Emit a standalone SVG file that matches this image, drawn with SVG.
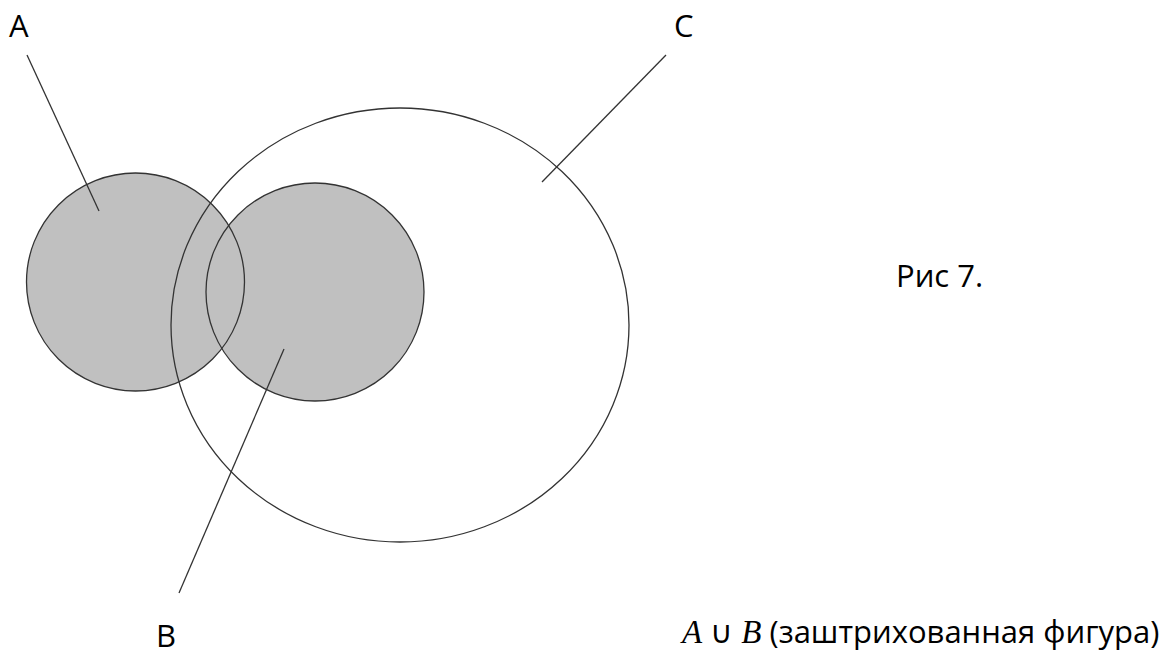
<svg xmlns="http://www.w3.org/2000/svg" width="1161" height="655" viewBox="0 0 1161 655">
<style>
.fillset{fill:#c0c0c0;stroke:none}
.outline{fill:none;stroke:#333;stroke-width:1.3}
.lead{stroke:#333;stroke-width:1.3;fill:none}
.lbl{font-family:"Open Sans","Liberation Sans",sans-serif;font-size:31px;fill:#000}
.math{font-family:"Liberation Serif","DejaVu Serif",serif;font-style:italic;font-size:33px}
</style>
<defs>
<circle id="circA" cx="135.5" cy="282" r="109"/>
<circle id="circB" cx="315" cy="292" r="109"/>
</defs>
<rect width="1161" height="655" fill="#fff"/>
<g id="setA"><use href="#circA" class="fillset"/></g>
<g id="setB"><use href="#circB" class="fillset"/></g>
<g id="setOutlines"><use href="#circA" class="outline"/><use href="#circB" class="outline"/></g>
<g id="setC"><ellipse class="outline" cx="400" cy="325" rx="229" ry="217"/></g>
<g id="connectors">
<line class="lead" x1="27" y1="55" x2="99" y2="211"/>
<line class="lead" x1="666" y1="55" x2="542" y2="182"/>
<line class="lead" x1="284" y1="349" x2="179" y2="593"/>
</g>
<g id="labelA"><text class="lbl" x="9" y="37">A</text></g>
<g id="labelC"><text class="lbl" x="674" y="37">C</text></g>
<g id="labelB"><text class="lbl" x="156" y="647">B</text></g>
<g id="caption"><text class="lbl" x="896" y="287">Рис 7.</text></g>
<g id="formula"><text class="lbl" x="682" y="643"><tspan class="math">A</tspan> ∪ <tspan class="math">B</tspan> (заштрихованная фигура)</text></g>
</svg>
